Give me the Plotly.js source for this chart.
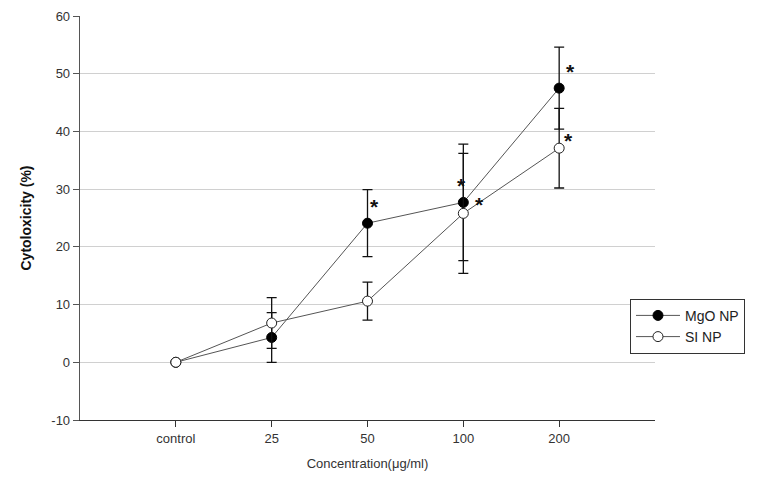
<!DOCTYPE html>
<html>
<head>
<meta charset="utf-8">
<script src="https://cdn.plot.ly/plotly-3.0.1.min.js"></script>
<style>html,body{margin:0;padding:0;background:#fff;}#chart{width:757px;height:488px;}</style>
</head>
<body>
<div id="chart"></div>
<script>
var categories = ["control", "25", "50", "100", "200"];
var mgoValues = [0, 4.3, 24.1, 27.7, 47.5];
var mgoErrors = [0, 4.3, 5.8, 10.1, 7.1];
var siValues = [0, 6.8, 10.6, 25.8, 37.1];
var siErrors = [0, 4.4, 3.3, 10.4, 6.9];
var starCategories = ["50", "100", "100", "200", "200"];
var starValues = [27.4, 31.0, 27.6, 50.8, 38.8];
var starShifts = [7, -2, 16, 11, 9];
var yTickValues = [-10, 0, 10, 20, 30, 40, 50, 60];
var yTickLabels = ["-10", "0", "10", "20", "30", "40", "50", "60"];

var FONT = "Arial, 'Liberation Sans', sans-serif";

var traces = [
  {
    x: categories, y: mgoValues, name: "MgO NP", type: "scatter", mode: "lines+markers",
    line: {color: "#555", width: 1},
    marker: {symbol: "circle", size: 10, color: "#000", line: {color: "#000", width: 1}},
    error_y: {type: "data", array: mgoErrors, visible: true, color: "#111", thickness: 1.3, width: 5}
  },
  {
    x: categories, y: siValues, name: "SI NP", type: "scatter", mode: "lines+markers",
    line: {color: "#555", width: 1},
    marker: {symbol: "circle", size: 10, color: "#fff", line: {color: "#222", width: 1}},
    error_y: {type: "data", array: siErrors, visible: true, color: "#111", thickness: 1.3, width: 5}
  }
];

var annotations = starCategories.map(function (c, i) {
  return {
    x: categories.indexOf(c), y: starValues[i], xref: "x", yref: "y",
    text: "<b>*</b>", showarrow: false,
    xshift: starShifts[i], yshift: -2,
    font: {family: FONT, size: 21, color: "#111"}
  };
});

var layout = {
  width: 757, height: 488,
  margin: {l: 80, r: 102, t: 16, b: 68},
  paper_bgcolor: "#fff", plot_bgcolor: "#fff",
  font: {family: FONT, size: 13, color: "#333"},
  showlegend: true,
  legend: {
    x: 0.9565, y: 0.30, xanchor: "left", yanchor: "top",
    bordercolor: "#333", borderwidth: 1, bgcolor: "#fff",
    font: {family: FONT, size: 14, color: "#222"},
    itemwidth: 44,
    entrywidth: 162, entrywidthmode: "pixels",
    tracegroupgap: 0
  },
  xaxis: {
    type: "category", range: [-1, 5],
    showgrid: false, zeroline: false,
    showline: true, linecolor: "#333", linewidth: 1.3,
    ticks: "outside", ticklen: 6, tickcolor: "#333", tickwidth: 1,
    tickfont: {family: FONT, size: 13, color: "#333"},
    title: {text: "Concentration(μg/ml)", font: {family: FONT, size: 13, color: "#333"}, standoff: 14}
  },
  yaxis: {
    range: [-10, 60], tickvals: yTickValues, ticktext: yTickLabels,
    showgrid: true, gridcolor: "#d0d0d0", gridwidth: 1, zeroline: false,
    showline: true, linecolor: "#555", linewidth: 1.3,
    ticks: "outside", ticklen: 6, tickcolor: "#555", tickwidth: 1,
    tickfont: {family: FONT, size: 13, color: "#333"},
    title: {text: "<b>Cytoloxicity (%)</b>", font: {family: FONT, size: 14, color: "#111"}, standoff: 16}
  },
  annotations: annotations
};

Plotly.newPlot("chart", traces, layout, {displayModeBar: false, staticPlot: true});
</script>
</body>
</html>
